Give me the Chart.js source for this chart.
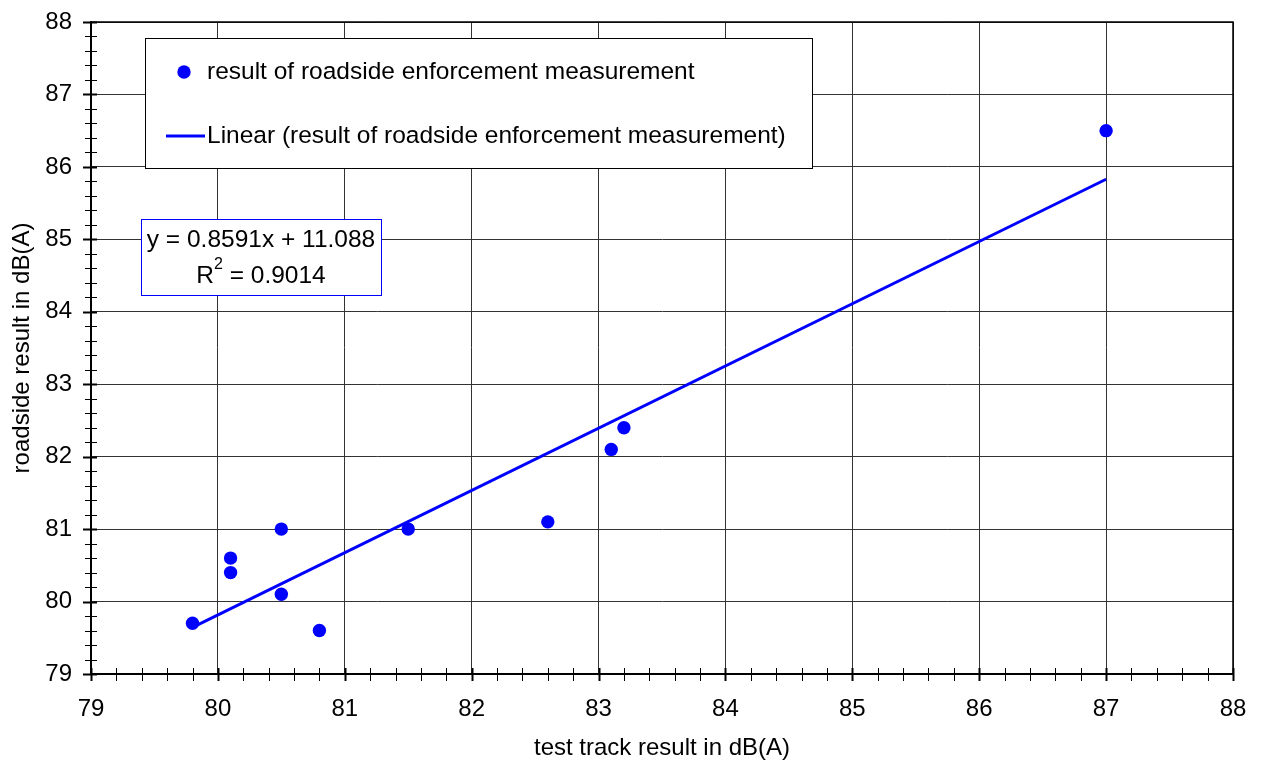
<!DOCTYPE html>
<html>
<head>
<meta charset="utf-8">
<script src="https://cdn.jsdelivr.net/npm/chart.js@4.4.1/dist/chart.umd.min.js"></script>
<style>
  html, body { margin: 0; padding: 0; background: #fff; }
  #wrap { width: 1261px; height: 765px; }
</style>
</head>
<body>
<div id="wrap"><canvas id="chart"></canvas></div>
<script>
// measured pairs: test track vs roadside, dB(A)
const testTrack = [79.8, 80.1, 80.1, 80.5, 80.5, 80.8, 81.5, 82.6, 83.1, 83.2, 87.0];
const roadside  = [79.7, 80.6, 80.4, 81.0, 80.1, 79.6, 81.0, 81.1, 82.1, 82.4, 86.5];

// linear fit as printed in the equation box
const trendSlope = 0.8591;
const trendIntercept = 11.088;
const trendR2 = 0.9014;
const trendX = [79.8, 87.0];

const xTickValues = [79, 80, 81, 82, 83, 84, 85, 86, 87, 88];
const yTickValues = [79, 80, 81, 82, 83, 84, 85, 86, 87, 88];
const minorStep = 0.2;

const seriesName = 'result of roadside enforcement measurement';
const FONT = "'Liberation Sans', Arial, sans-serif";
const TXT = 24.5;
const BLUE = '#0000ff';

const points = testTrack.map((x, i) => ({ x: x, y: roadside[i] }));
const trendPoints = trendX.map(x => ({ x: x, y: trendSlope * x + trendIntercept }));

// keep the plot area exactly where layout.padding puts it
function noOverhang(s) {
    s.paddingTop = 0; s.paddingBottom = 0; s.paddingLeft = 0; s.paddingRight = 0;
}

// ticks crossing the axes, legend box and equation box
const extras = {
    id: 'extras',
    afterDraw(chart) {
        const { ctx, chartArea: a, scales: { x, y } } = chart;
        ctx.save();

        // plot frame (top/right)
        ctx.strokeStyle = '#000';
        ctx.lineWidth = 1.5;
        ctx.beginPath();
        ctx.moveTo(a.left, a.top); ctx.lineTo(a.right, a.top); ctx.lineTo(a.right, a.bottom);
        ctx.stroke();

        const nx = Math.round((x.max - x.min) / minorStep);
        for (let i = 0; i <= nx; i++) {
            const major = i % 5 === 0;
            const px = Math.round(x.getPixelForValue(x.min + i * minorStep)) + 0.5;
            ctx.lineWidth = major ? 2 : 1;
            ctx.beginPath();
            ctx.moveTo(px, a.bottom - 6);
            ctx.lineTo(px, a.bottom + 7);
            ctx.stroke();
        }
        const ny = Math.round((y.max - y.min) / minorStep);
        for (let i = 0; i <= ny; i++) {
            const major = i % 5 === 0;
            const py = Math.round(y.getPixelForValue(y.min + i * minorStep)) + 0.5;
            ctx.lineWidth = major ? 2 : 1;
            ctx.beginPath();
            ctx.moveTo(a.left - (major ? 8 : 6), py);
            ctx.lineTo(a.left + 6, py);
            ctx.stroke();
        }

        // legend
        ctx.fillStyle = '#fff';
        ctx.fillRect(145, 38, 667, 130);
        ctx.strokeStyle = '#000';
        ctx.lineWidth = 1;
        ctx.strokeRect(145.5, 38.5, 667, 130);

        ctx.fillStyle = BLUE;
        ctx.beginPath();
        ctx.arc(184, 72, 6.7, 0, Math.PI * 2);
        ctx.fill();
        ctx.strokeStyle = BLUE;
        ctx.lineWidth = 3;
        ctx.beginPath();
        ctx.moveTo(166, 136); ctx.lineTo(205, 136);
        ctx.stroke();

        ctx.fillStyle = '#000';
        ctx.font = TXT + 'px ' + FONT;
        ctx.textBaseline = 'middle';
        ctx.textAlign = 'left';
        ctx.fillText(chart.data.datasets[0].label, 207, 72);
        ctx.fillText(chart.data.datasets[1].label, 207, 136);

        // equation box
        ctx.fillStyle = '#fff';
        ctx.fillRect(141, 219, 240, 76);
        ctx.strokeStyle = BLUE;
        ctx.lineWidth = 1;
        ctx.strokeRect(141.5, 219.5, 240, 76);

        ctx.fillStyle = '#000';
        ctx.textAlign = 'center';
        ctx.fillText('y = ' + trendSlope + 'x + ' + trendIntercept.toFixed(3), 261, 240);
        const head = 'R', tail = ' = ' + trendR2;
        const big = TXT + 'px ' + FONT, small = '16px ' + FONT;
        ctx.font = big;
        const wHead = ctx.measureText(head).width;
        const wTail = ctx.measureText(tail).width;
        ctx.font = small;
        const wSup = ctx.measureText('2').width;
        const sx = 261 - (wHead + wSup + wTail) / 2;
        ctx.textAlign = 'left';
        ctx.font = big;
        ctx.fillText(head, sx, 276);
        ctx.font = small;
        ctx.fillText('2', sx + wHead, 265);
        ctx.font = big;
        ctx.fillText(tail, sx + wHead + wSup, 276);

        ctx.restore();
    }
};

new Chart(document.getElementById('chart'), {
    type: 'scatter',
    data: {
        datasets: [
            {
                label: seriesName,
                data: points,
                backgroundColor: BLUE,
                borderColor: BLUE,
                pointRadius: 6.7,
                pointHoverRadius: 6.7,
                pointBorderWidth: 0
            },
            {
                type: 'line',
                label: 'Linear (' + seriesName + ')',
                data: trendPoints,
                borderColor: BLUE,
                borderWidth: 3,
                pointRadius: 0,
                fill: false,
                tension: 0
            }
        ]
    },
    options: {
        responsive: true,
        maintainAspectRatio: false,
        animation: false,
        layout: { padding: { top: 22, right: 28, left: 0, bottom: 0 } },
        plugins: {
            legend: { display: false },
            tooltip: { enabled: false }
        },
        scales: {
            x: {
                type: 'linear',
                position: 'bottom',
                min: 79,
                max: 88,
                afterBuildTicks: s => { s.ticks = xTickValues.map(v => ({ value: v })); },
                afterFit: s => { s.height = 91; noOverhang(s); },
                ticks: { color: '#000', font: { family: FONT, size: 24 }, padding: 21, maxRotation: 0 },
                grid: { color: '#333', lineWidth: 1, drawTicks: false },
                border: { color: '#000', width: 2 },
                title: {
                    display: true,
                    text: 'test track result in dB(A)',
                    color: '#000',
                    font: { family: FONT, size: 24 },
                    padding: { top: 0, bottom: 2 }
                }
            },
            y: {
                type: 'linear',
                min: 79,
                max: 88,
                afterBuildTicks: s => { s.ticks = yTickValues.map(v => ({ value: v })); },
                afterFit: s => { s.width = 91; noOverhang(s); },
                ticks: { color: '#000', font: { family: FONT, size: 24 }, padding: 19 },
                grid: { color: '#333', lineWidth: 1, drawTicks: false },
                border: { color: '#000', width: 2 },
                title: {
                    display: true,
                    text: 'roadside result in dB(A)',
                    color: '#000',
                    font: { family: FONT, size: 24 },
                    padding: { top: 8, bottom: 0 }
                }
            }
        }
    },
    plugins: [extras]
});
</script>
</body>
</html>
